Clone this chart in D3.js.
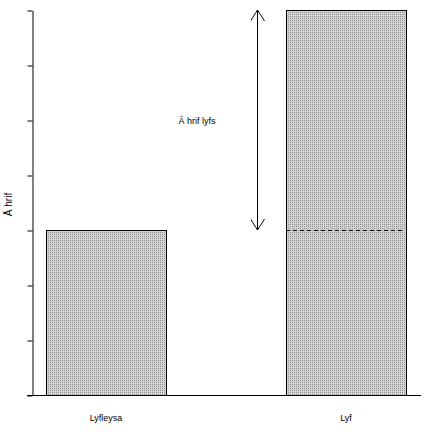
<!DOCTYPE html>
<html><head><meta charset="utf-8">
<script src="https://cdn.jsdelivr.net/npm/d3@7"></script>
<style>body{margin:0;background:#fff}svg{display:block}</style>
</head><body>
<svg id="c" width="432" height="432"></svg>
<script>
const categories = ["Lyfleysa", "Lyf"];
const values = [3, 7];
const yTicks = [0, 1, 2, 3, 4, 5, 6, 7];
const yLabel = "Ā hrif";
const annotation = "Ā hrif lyfs";

const svg = d3.select("#c");
const x = d3.scaleBand().domain(categories).range([26, 426]).paddingInner(0.5).paddingOuter(1/12);
const y = d3.scaleLinear().domain([0, 7]).range([395, 10]);

const defs = svg.append("defs");
const pat = defs.append("pattern").attr("id","dots").attr("width",2).attr("height",2).attr("patternUnits","userSpaceOnUse");
pat.append("rect").attr("width",2).attr("height",2).attr("fill","#d2d2d2");
pat.append("rect").attr("width",1).attr("height",1).attr("fill","#939393");

const mk = defs.append("marker").attr("id","ah").attr("viewBox","0 0 12 14").attr("refX",11).attr("refY",7)
  .attr("markerWidth",12).attr("markerHeight",14).attr("markerUnits","userSpaceOnUse").attr("orient","auto-start-reverse");
mk.append("path").attr("d","M0,0 L11,7 L0,14").attr("fill","none").attr("stroke","#000").attr("stroke-width",1);

svg.selectAll("rect.bar").data(values).join("rect").attr("class","bar")
  .attr("x",(d,i)=>x(categories[i])+0.5).attr("y",d=>y(d)+0.5)
  .attr("width",x.bandwidth()).attr("height",d=>y(0)-y(d))
  .attr("fill","url(#dots)").attr("stroke","#000").attr("stroke-width",1);

// y axis
const ya = svg.append("g").attr("transform","translate(32.5,0.5)")
  .call(d3.axisLeft(y).tickValues(yTicks).tickFormat("").tickSize(5).tickSizeOuter(0));
ya.select(".domain").attr("stroke","#000");
ya.selectAll(".tick line").attr("stroke","#000");

// baseline
svg.append("line").attr("x1",27).attr("x2",421).attr("y1",y(0)+0.5).attr("y2",y(0)+0.5).attr("stroke","#000");

// x labels
svg.selectAll("text.xl").data(categories).join("text").attr("class","xl")
  .attr("x",d=>x(d)+x.bandwidth()/2).attr("y",421)
  .attr("text-anchor","middle").attr("font-family","Liberation Sans, Arial, sans-serif").attr("font-size",9).attr("fill","#000").text(d=>d);

// y label
svg.append("text").attr("transform",`translate(12,${(y(0)+y(7))/2 + 2}) rotate(-90)`)
  .attr("text-anchor","middle").attr("font-family","Liberation Sans, Arial, sans-serif").attr("font-size",10).attr("fill","#000").text(yLabel);

// dashed line
svg.append("line").attr("x1",x("Lyf")).attr("x2",x("Lyf")+x.bandwidth()-3)
  .attr("y1",y(values[0])+0.5).attr("y2",y(values[0])+0.5)
  .attr("stroke","#000").attr("stroke-dasharray","4,3");

// arrow
const ax = x("Lyf") - 28.5;
svg.append("line").attr("x1",ax).attr("x2",ax).attr("y1",y(values[0])).attr("y2",y(values[1]))
  .attr("stroke","#000").attr("marker-start","url(#ah)").attr("marker-end","url(#ah)");

svg.append("text").attr("x",x("Lyfleysa")+x.bandwidth()+31).attr("y",y(5)+4)
  .attr("text-anchor","middle").attr("font-family","Liberation Sans, Arial, sans-serif").attr("font-size",9).attr("fill","#000").text(annotation);
</script>
</body></html>
